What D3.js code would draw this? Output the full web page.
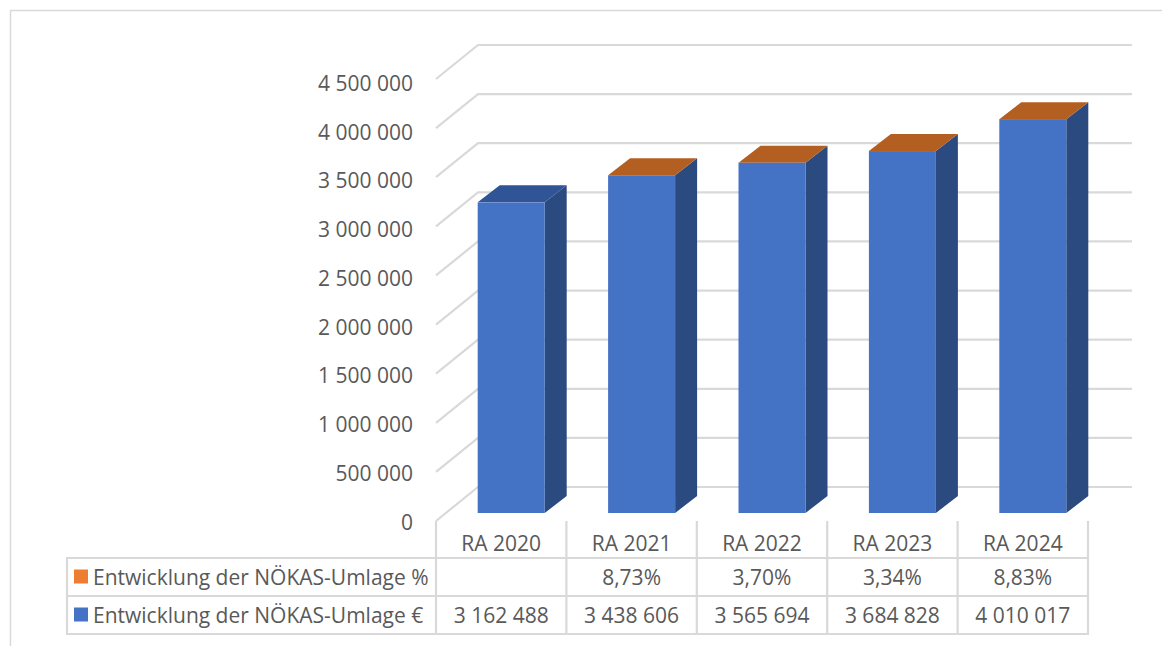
<!DOCTYPE html>
<html><head><meta charset="utf-8">
<script src="https://cdn.jsdelivr.net/npm/d3@7"></script>
<style>html,body{margin:0;background:#fff}svg{display:block}text{font-family:"Open Sans",sans-serif;fill:#595959}</style>
</head><body><div id="c"></div>
<script>
const categories=["RA 2020","RA 2021","RA 2022","RA 2023","RA 2024"];
const euroValues=[3162488,3438606,3565694,3684828,4010017];
const euroLabels=["3 162 488","3 438 606","3 565 694","3 684 828","4 010 017"];
const pctLabels=["","8,73%","3,70%","3,34%","8,83%"];
const tickValues=[0,500000,1000000,1500000,2000000,2500000,3000000,3500000,4000000,4500000];
const seriesNames=["Entwicklung der NÖKAS-Umlage %","Entwicklung der NÖKAS-Umlage €"];
const seriesColors=["#ed7d31","#4472c4"];

const W=1162,H=646,grid="#d9d9d9";
const dx=42,dy=34,bdx=22,bdy=17;
const svg=d3.select("#c").append("svg").attr("width",W).attr("height",H);
const y=d3.scaleLinear().domain([0,4500000]).range([487,45]);
const yLabel=d3.scaleLinear().domain([0,4500000]).range([522.5,83.5]);
const x=d3.scaleBand().domain(categories).range([436,1088]);
const bw=67, bx=c=>x(c)+x.bandwidth()/2-bw/2+10;
const base=513;
const h=v=>y(0)-y(v);
const fmt=v=>d3.format(",")(v).replace(/,/g," ");

// frame
svg.append("path").attr("d","M10.5,646V10.5H1162").attr("fill","none").attr("stroke","#d9d9d9").attr("stroke-width",1.5);

// gridlines
const g=svg.append("g").attr("fill","none").attr("stroke",grid).attr("stroke-width",2.2);
g.selectAll("path").data(tickValues).join("path")
 .attr("d",t=>`M436,${y(t)+dy}L478,${y(t)}H1132`);

// axis labels
const ax=svg.append("g").attr("transform","translate(413,0)")
 .call(d3.axisLeft(yLabel).tickValues(tickValues).tickSize(0).tickPadding(0).tickFormat(fmt));
ax.select(".domain").remove();
ax.selectAll("text").style("font-size","21px").style("font-family",'"Open Sans",sans-serif').attr("fill","#595959");

// bars
const b=svg.append("g").selectAll("g").data(categories).join("g");
b.append("path").attr("fill","#2a4a80")
 .attr("d",(c,i)=>{const X=bx(c)+bw,T=base-h(euroValues[i]);return `M${X},${base}L${X+bdx},${base-bdy}V${T-bdy}L${X},${T}Z`;});
b.append("path").attr("fill",(c,i)=>pctLabels[i]?"#b45f22":"#2f5597")
 .attr("d",(c,i)=>{const X=bx(c),T=base-h(euroValues[i]);return `M${X},${T}L${X+bdx},${T-bdy}H${X+bw+bdx}L${X+bw},${T}Z`;});
b.append("rect").attr("fill","#4472c4")
 .attr("x",c=>bx(c)).attr("width",bw)
 .attr("y",(c,i)=>base-h(euroValues[i])).attr("height",(c,i)=>h(euroValues[i]));

// table
const rows=[558,596,634];
const t=svg.append("g").attr("stroke",grid).attr("stroke-width",2.2).attr("fill","none");
rows.forEach(r=>t.append("line").attr("x1",66).attr("x2",1088).attr("y1",r).attr("y2",r));
t.append("line").attr("x1",67).attr("x2",67).attr("y1",557).attr("y2",635);
const edges=[...categories.map(c=>x(c)),x.range()[1]];
t.selectAll(".v").data(edges).join("line").attr("x1",d=>d).attr("x2",d=>d).attr("y1",521).attr("y2",635);

const cell=(txt,cx,cy)=>svg.append("text").attr("x",cx).attr("y",cy).attr("text-anchor","middle").attr("dominant-baseline","central").style("font-size","21px").text(txt);
categories.forEach((c,i)=>{
 const cx=x(c)+x.bandwidth()/2;
 cell(c,cx,542.5); cell(pctLabels[i],cx,576.5); cell(euroLabels[i],cx,614.5);
});
seriesNames.forEach((n,i)=>{
 const cy=[576.5,614.5][i];
 svg.append("rect").attr("x",74).attr("y",cy-7).attr("width",14).attr("height",14).attr("fill",seriesColors[i]);
 svg.append("text").attr("x",93).attr("y",cy).attr("dominant-baseline","central").style("font-size","21px").text(n);
});
</script></body></html>
